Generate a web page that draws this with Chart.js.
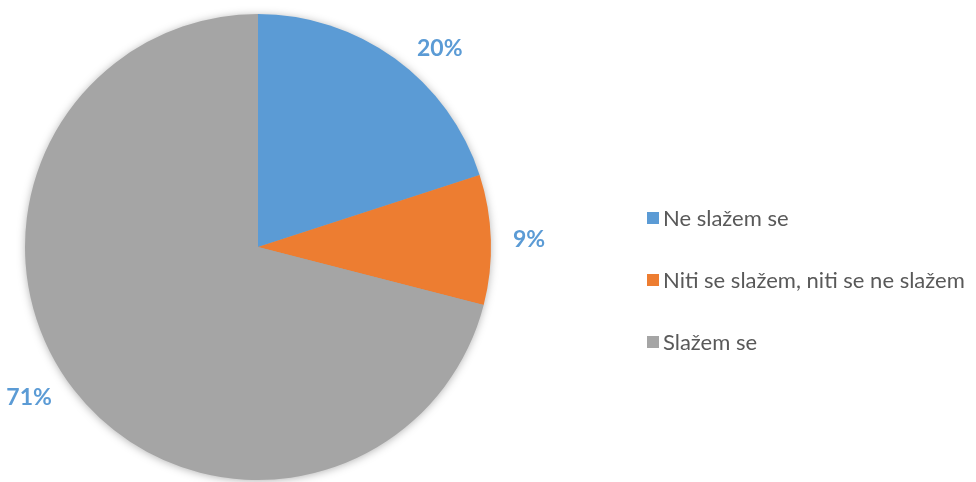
<!DOCTYPE html>
<html>
<head>
<meta charset="utf-8">
<script src="https://cdn.jsdelivr.net/npm/chart.js@4"></script>
<style>
    html, body { margin: 0; padding: 0; background: #fff; }
    #wrap { width: 976px; height: 482px; }
</style>
</head>
<body>
<div id="wrap"><canvas id="myChart" width="976" height="482"></canvas></div>
<script>
// Данные графика
const categories = ['Ne slažem se', 'Niti se slažem, niti se ne slažem', 'Slažem se'];
const shares = [20, 9, 71];
const colors = ['#5B9BD5', '#ED7D31', '#A5A5A5'];

const fontName = 'Lato, "Open Sans", sans-serif';

// Мягкая тень под кругом
const shadowPlugin = {
    id: 'pieShadow',
    beforeDatasetsDraw(chart) {
        const arc = chart.getDatasetMeta(0).data[0];
        if (!arc) return;
        const ctx = chart.ctx;
        ctx.save();
        ctx.shadowColor = 'rgba(0, 0, 0, 0.35)';
        ctx.shadowBlur = 10;
        ctx.shadowOffsetX = 0;
        ctx.shadowOffsetY = 1;
        ctx.fillStyle = '#a5a5a5';
        ctx.beginPath();
        ctx.arc(arc.x, arc.y, arc.outerRadius - 1, 0, Math.PI * 2);
        ctx.fill();
        ctx.restore();
    }
};

// Подписи процентов снаружи секторов
const labelPlugin = {
    id: 'outsideLabels',
    afterDatasetsDraw(chart) {
        const ctx = chart.ctx;
        const meta = chart.getDatasetMeta(0);
        ctx.save();
        ctx.font = `bold 23px ${fontName}`;
        ctx.fillStyle = '#5B9BD5';
        ctx.textAlign = 'center';
        ctx.textBaseline = 'middle';
        meta.data.forEach((arc, i) => {
            const text = `${shares[i]}%`;
            const mid = (arc.startAngle + arc.endAngle) / 2;
            const dx = Math.cos(mid);
            const dy = Math.sin(mid);
            const w = ctx.measureText(text).width;
            const px = arc.x + dx * arc.outerRadius;
            const py = arc.y + dy * arc.outerRadius;
            const x = px + Math.sign(dx) * (22 + w / 2);
            const y = py + dy * 12;
            ctx.fillText(text, x, y);
        });
        ctx.restore();
    }
};

// Легенда справа
const legendPlugin = {
    id: 'sideLegend',
    afterDraw(chart) {
        const ctx = chart.ctx;
        const left = 647;
        const top = 218;
        const step = 62;
        ctx.save();
        ctx.font = `22px ${fontName}`;
        ctx.textBaseline = 'middle';
        ctx.textAlign = 'left';
        chart.data.labels.forEach((label, i) => {
            const y = top + i * step;
            ctx.fillStyle = colors[i];
            ctx.fillRect(left, y - 6, 12, 12);
            ctx.fillStyle = '#595959';
            ctx.fillText(label, left + 16, y + 1);
        });
        ctx.restore();
    }
};

function renderPie() {
    const ctx = document.getElementById('myChart').getContext('2d');
    new Chart(ctx, {
        type: 'pie',
        data: {
            labels: categories,
            datasets: [{
                data: shares,
                backgroundColor: colors,
                borderWidth: 0,
                hoverOffset: 0,
            }]
        },
        options: {
            responsive: false,
            animation: false,
            layout: {
                padding: { top: 14, bottom: 2, left: 25, right: 485 }
            },
            plugins: {
                legend: { display: false },
                tooltip: { enabled: false },
            },
        },
        plugins: [shadowPlugin, labelPlugin, legendPlugin]
    });
}

document.addEventListener('DOMContentLoaded', () => {
    renderPie();
});
</script>
</body>
</html>
